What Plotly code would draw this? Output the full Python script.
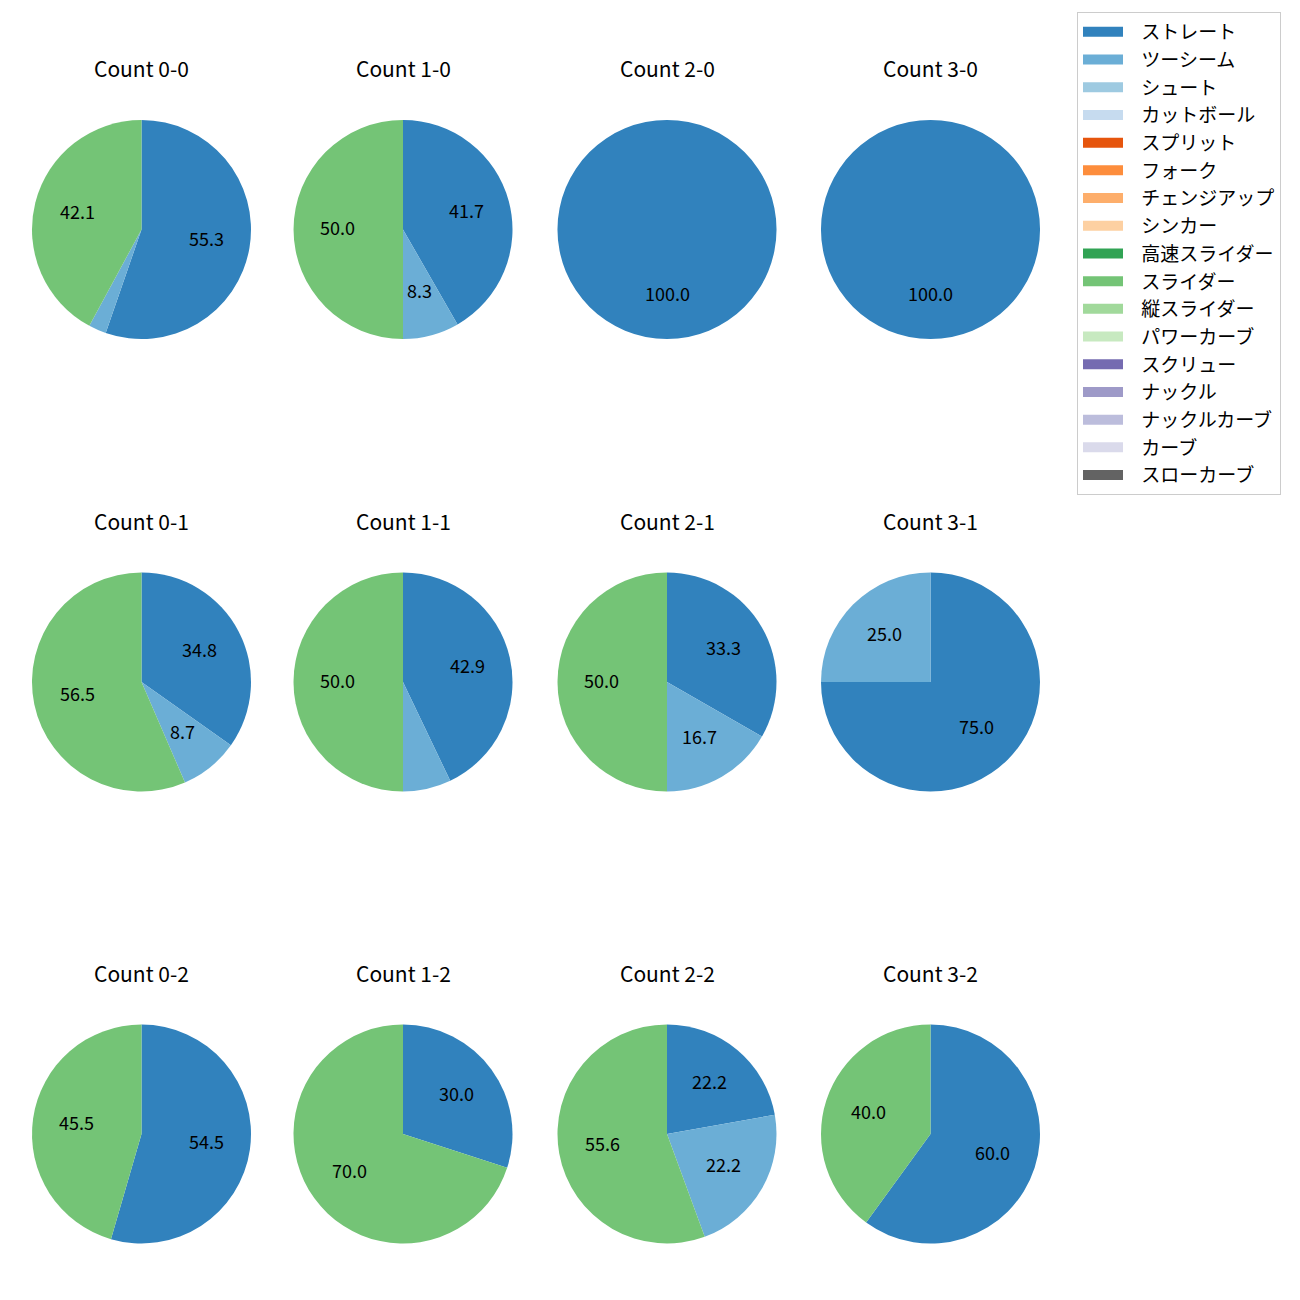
import math
import plotly.graph_objects as go

pitch_types = ["ストレート", "ツーシーム", "シュート", "カットボール", "スプリット", "フォーク",
               "チェンジアップ", "シンカー", "高速スライダー", "スライダー", "縦スライダー",
               "パワーカーブ", "スクリュー", "ナックル", "ナックルカーブ", "カーブ", "スローカーブ"]
colors = ["#3182bd", "#6baed6", "#9ecae1", "#c6dbef", "#e6550d", "#fd8d3c", "#fdae6b",
          "#fdd0a2", "#31a354", "#74c476", "#a1d99b", "#c7e9c0", "#756bb1", "#9e9ac8",
          "#bcbddc", "#dadaeb", "#636363"]

counts = ["0-0", "1-0", "2-0", "3-0",
          "0-1", "1-1", "2-1", "3-1",
          "0-2", "1-2", "2-2", "3-2"]
# share (%) of each pitch type per count
straight = [55.3, 41.7, 100.0, 100.0, 34.8, 42.9, 33.3, 75.0, 54.5, 30.0, 22.2, 60.0]
twoseam = [2.6, 8.3, 0.0, 0.0, 8.7, 7.1, 16.7, 25.0, 0.0, 0.0, 22.2, 0.0]
slider = [42.1, 50.0, 0.0, 0.0, 56.5, 50.0, 50.0, 0.0, 45.5, 70.0, 55.6, 40.0]

W = H = 1300
FONT = "Noto Sans CJK JP"
col_cx = [141.5, 403, 667, 930.5]
row_cy = [229.5, 682, 1134]
R = 109.5
title_dy = 160.5
label_threshold = 8.0

fig = go.Figure()
annotations = []

for i, cnt in enumerate(counts):
    r, c = divmod(i, 4)
    cx, cy = col_cx[c], row_cy[r]
    vals = [0.0] * len(pitch_types)
    vals[pitch_types.index("ストレート")] = straight[i]
    vals[pitch_types.index("ツーシーム")] = twoseam[i]
    vals[pitch_types.index("スライダー")] = slider[i]
    fig.add_trace(go.Pie(
        labels=pitch_types, values=vals, sort=False, direction="clockwise", rotation=0,
        marker=dict(colors=colors, line=dict(width=0)),
        textinfo="none", showlegend=False,
        domain=dict(x=[(cx - R) / W, (cx + R) / W], y=[1 - (cy + R) / H, 1 - (cy - R) / H]),
    ))
    total = sum(vals)
    cum = 0.0
    for v in vals:
        if v <= 0:
            continue
        mid = (cum + v / 2) / total
        cum += v
        pct = v / total * 100
        if pct < label_threshold:
            continue
        ang = math.radians(90 - mid * 360)
        lx = cx + 0.6 * R * math.cos(ang)
        ly = cy - 0.6 * R * math.sin(ang)
        annotations.append(dict(x=lx / W, y=1 - ly / H, xref="paper", yref="paper",
                                xanchor="center", yanchor="middle", yshift=2.5,
                                text=f"{pct:.1f}", showarrow=False,
                                font=dict(size=18, color="black", family=FONT)))
    annotations.append(dict(x=cx / W, y=1 - (cy - title_dy) / H, xref="paper", yref="paper",
                            xanchor="center", yanchor="middle", yshift=1,
                            text=f"Count {cnt}", showarrow=False,
                            font=dict(size=21, color="black", family=FONT)))

for name, col in zip(pitch_types, colors):
    fig.add_trace(go.Scatter(x=[None], y=[None], mode="lines", name="\u2002\u2009" + name,
                             line=dict(color=col, width=13), legendgroup=name))

fig.update_layout(
    width=W, height=H, margin=dict(l=0, r=0, t=0, b=0),
    paper_bgcolor="white", plot_bgcolor="white",
    xaxis=dict(visible=False), yaxis=dict(visible=False),
    annotations=annotations,
    font=dict(family=FONT),
    legend=dict(x=1077 / W, y=1 - 12 / H, xanchor="left", yanchor="top",
                bgcolor="white", bordercolor="#cccccc", borderwidth=1,
                font=dict(size=19, color="black", family=FONT),
                itemwidth=40, tracegroupgap=0),
)

fig.write_html("out.html", post_script="document.body.style.margin='0';",
               config={"displayModeBar": False})
